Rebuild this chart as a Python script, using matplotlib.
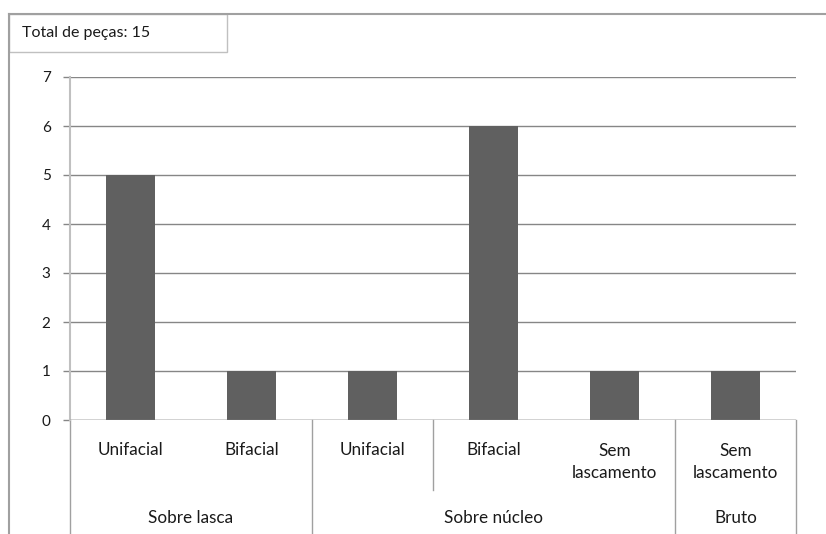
import matplotlib.pyplot as plt
from matplotlib.patches import Rectangle
from matplotlib.lines import Line2D

# Data
labels = ['Unifacial', 'Bifacial', 'Unifacial', 'Bifacial', 'Sem\nlascamento', 'Sem\nlascamento']
groups = ['Sobre lasca', 'Sobre núcleo', 'Bruto']
group_sizes = [2, 3, 1]
values = [5, 1, 1, 6, 1, 1]
total_text = 'Total de peças: 15'

plt.rcParams['font.family'] = ['Lato', 'DejaVu Sans']
plt.rcParams['text.color'] = '#1a1a1a'

W, H = 826, 534
fig = plt.figure(figsize=(W / 100, H / 100), dpi=100)

def fx(px):
    return px / W

def fy(py):
    return 1 - py / H

# plot area: x 70..796, y 77..420
ax = fig.add_axes([fx(70), fy(420), fx(796) - fx(70), fy(77) - fy(420)])
x = list(range(len(values)))
ax.bar(x, values, width=0.4, color='#606060', zorder=3)
ax.set_xlim(-0.5, len(values) - 0.5)
ax.set_ylim(0, 7)
ax.set_yticks(range(8))
ax.grid(axis='y', color='#868686', linewidth=1)
ax.tick_params(axis='y', length=5, color='#868686', width=1, labelsize=11,
               labelcolor='#1a1a1a', pad=9)
ax.tick_params(axis='x', bottom=False, labelbottom=False)
for s in ['top', 'right', 'bottom']:
    ax.spines[s].set_visible(False)
ax.spines['left'].set_color('#c0c0c0')
ax.spines['left'].set_linewidth(1.5)

# category labels below the axis
trans = ax.get_xaxis_transform()
for i, lab in enumerate(labels):
    if '\n' in lab:
        ax.text(i, -0.122, lab, transform=trans, ha='center', va='center',
                fontsize=12.3, linespacing=1.5)
    else:
        ax.text(i, -0.087, lab, transform=trans, ha='center', va='center', fontsize=12.3)

start = 0
bounds = [-0.5]
for g, n in zip(groups, group_sizes):
    ax.text(start + (n - 1) / 2, -0.287, g, transform=trans, ha='center', va='center', fontsize=12.3)
    start += n
    bounds.append(start - 0.5)

# divider lines below axis
bottom_y = -(H - 420) / 343
for b in bounds:
    ax.add_line(Line2D([b, b], [0, bottom_y], transform=trans, color='#a0a0a0',
                       linewidth=1, clip_on=False))
# inner divider within 'Sobre núcleo'
ax.add_line(Line2D([2.5, 2.5], [0, -(490 - 420) / 343], transform=trans, color='#a0a0a0',
                   linewidth=1, clip_on=False))
ax.axhline(0, color='#868686', linewidth=1, zorder=4)

# outer frame and total box
fig.add_artist(Line2D([fx(9), 1], [fy(14), fy(14)], color='#a0a0a0', linewidth=1.5))
fig.add_artist(Line2D([fx(9), fx(9)], [fy(14), 0], color='#a0a0a0', linewidth=1.5))
fig.add_artist(Rectangle((fx(9), fy(52)), fx(227) - fx(9), fy(14) - fy(52),
                         facecolor='white', edgecolor='#c0c0c0', linewidth=1,
                         transform=fig.transFigure))
fig.text(fx(22), fy(33), total_text, ha='left', va='center', fontsize=11.5)

fig.savefig('out.png', dpi=100)
